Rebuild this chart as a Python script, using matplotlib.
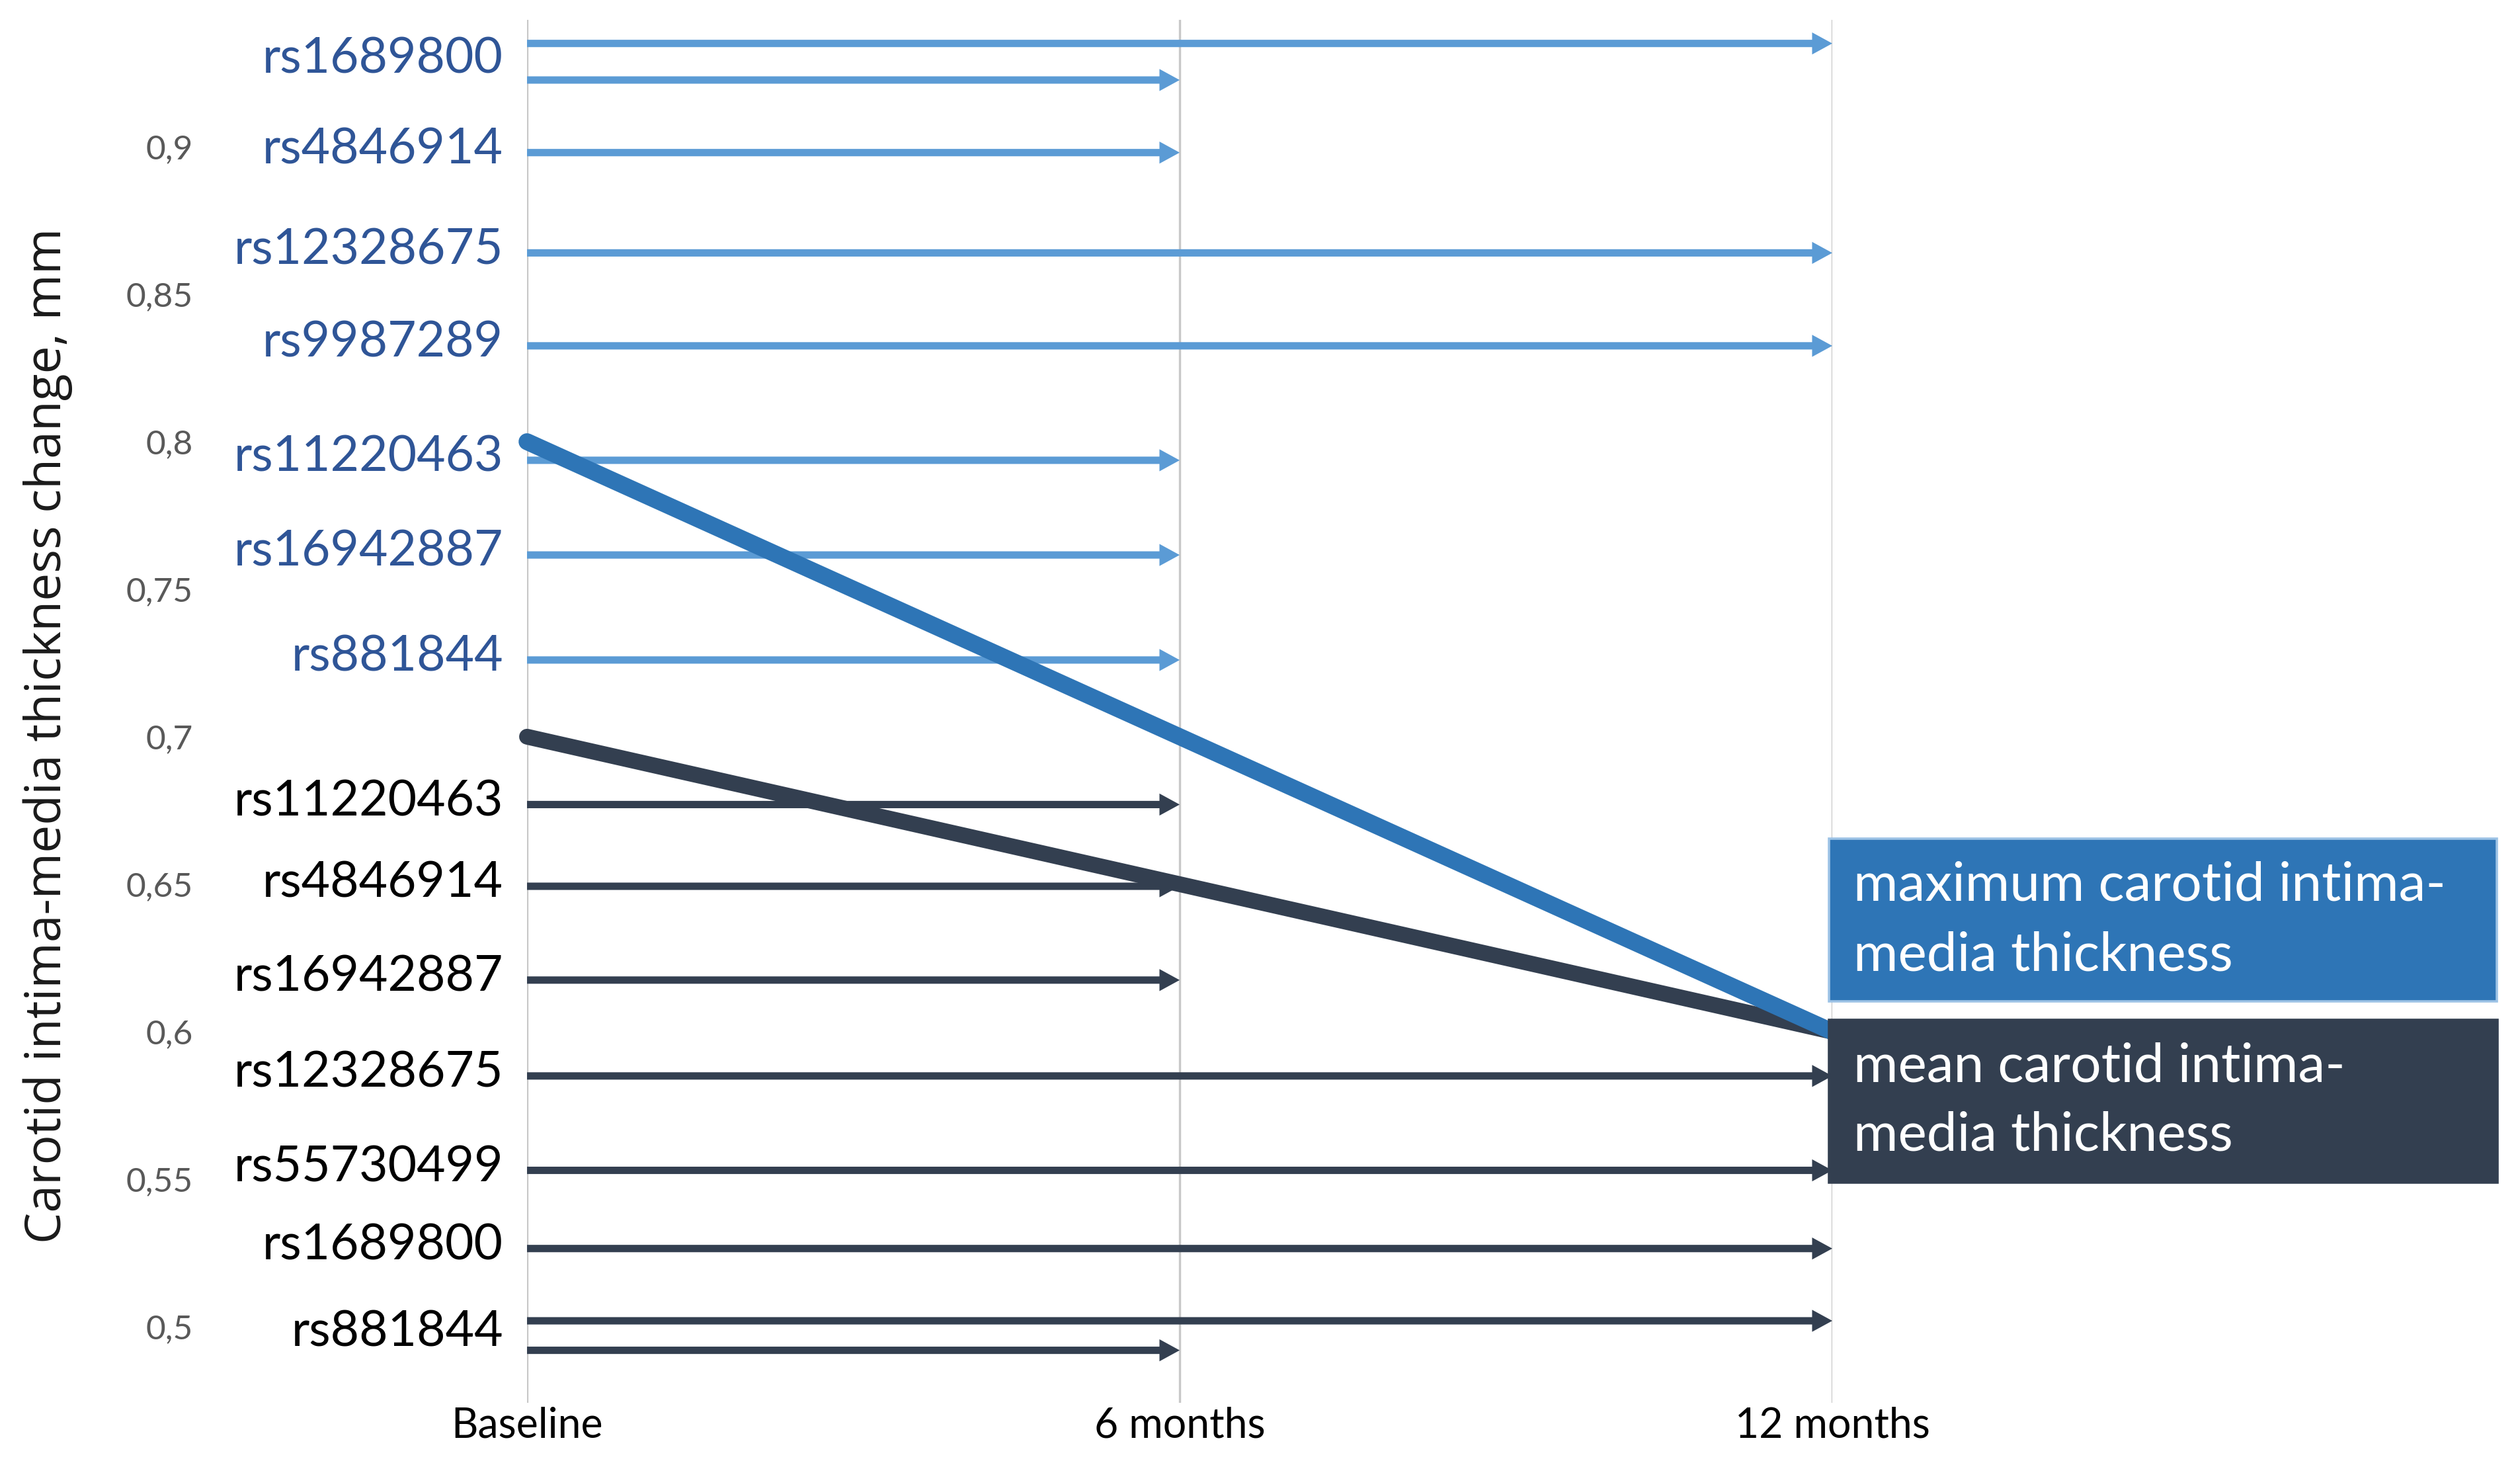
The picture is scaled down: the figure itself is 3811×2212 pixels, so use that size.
import matplotlib
matplotlib.use("Agg")
import matplotlib.pyplot as plt
from matplotlib.patches import FancyArrowPatch, ArrowStyle, Rectangle

# ---------------- data ----------------
time_points = ["Baseline", "6 months", "12 months"]
max_cimt = [0.80, 0.70, 0.60]
mean_cimt = [0.70, 0.65, 0.60]

max_snps = ["rs1689800", "rs1689800", "rs4846914", "rs12328675", "rs9987289",
            "rs11220463", "rs16942887", "rs881844"]
max_snp_values = [0.935, 0.9226, 0.898, 0.864, 0.8325, 0.7937, 0.7616, 0.726]
max_snp_reach = ["12 months", "6 months", "6 months", "12 months", "12 months",
                 "6 months", "6 months", "6 months"]

mean_snps = ["rs11220463", "rs4846914", "rs16942887", "rs12328675", "rs55730499",
             "rs1689800", "rs881844", "rs881844"]
mean_snp_values = [0.677, 0.6493, 0.6175, 0.585, 0.553, 0.5265, 0.502, 0.492]
mean_snp_reach = ["6 months", "6 months", "6 months", "12 months", "12 months",
                  "12 months", "12 months", "6 months"]

y_ticks = [0.5, 0.55, 0.6, 0.65, 0.7, 0.75, 0.8, 0.85, 0.9]
y_tick_labels = ["0,5", "0,55", "0,6", "0,65", "0,7", "0,75", "0,8", "0,85", "0,9"]
series_names = ["maximum carotid intima-\nmedia thickness",
                "mean carotid intima-\nmedia thickness"]
y_title = "Carotid intima-media thickness change, mm"

# ---------------- style ----------------
plt.rcParams['font.family'] = ['Lato', 'DejaVu Sans']
MAX_LINE = "#2E75B6"
MAX_ARROW = "#5B9BD5"
MAX_TEXT = "#2F5597"
MEAN_COL = "#333F50"
GRID = "#C8C8C8"

W, H = 3812, 2212
DPI = 200
fig = plt.figure(figsize=(W / DPI, H / DPI), dpi=DPI)


def fx(x):
    return x / W


def fy(y):
    return 1 - y / H


ax = fig.add_axes([fx(797), fy(2121), fx(2771) - fx(797), fy(30) - fy(2121)])
ax.set_xlim(0, 2)
ax.set_ylim(0.4742, 0.9430)
for s in ax.spines.values():
    s.set_visible(False)

ax.set_xticks(range(len(time_points)), time_points)
ax.set_yticks(y_ticks, y_tick_labels)
ax.tick_params(axis='x', length=0, pad=2, labelsize=22.5, labelcolor='#000000')
ax.tick_params(axis='y', length=0, pad=182, labelsize=18.5, labelcolor='#595959')
ax.grid(axis='x', color=GRID, lw=1.2)
ax.grid(axis='y', visible=False)
ax.set_axisbelow(True)

arrow_style = ArrowStyle.Simple(head_length=11, head_width=12, tail_width=4)


def draw_group(snps, values, reach, arrow_col, text_col):
    groups = {}
    for name, v, r in zip(snps, values, reach):
        end = time_points.index(r)
        p = FancyArrowPatch((0, v), (end, v), arrowstyle=arrow_style,
                            mutation_scale=1, shrinkA=0, shrinkB=0,
                            color=arrow_col, lw=0, zorder=3, clip_on=False)
        ax.add_patch(p)
        groups.setdefault(name, []).append(v)
    for name, vs in groups.items():
        v = sum(vs) / len(vs)
        ax.annotate(name, xy=(0, v), xycoords='data', xytext=(-13, -6),
                    textcoords='offset points', ha='right', va='baseline',
                    fontsize=27, color=text_col, annotation_clip=False)


draw_group(max_snps, max_snp_values, max_snp_reach, MAX_ARROW, MAX_TEXT)
draw_group(mean_snps, mean_snp_values, mean_snp_reach, MEAN_COL, "#000000")

x = list(range(len(time_points)))
ax.plot(x, max_cimt, color=MAX_LINE, lw=9.2, solid_capstyle='round', zorder=5, clip_on=False)
ax.plot(x, mean_cimt, color=MEAN_COL, lw=8.6, solid_capstyle='round', zorder=4, clip_on=False)

# legend boxes
boxes = [
    (2766, 1268, 3776, 1514, MAX_LINE, "#9DC3E6", (1362, 1468)),
    (2766, 1542, 3777, 1788, MEAN_COL, MEAN_COL, (1635, 1739)),
]
for (x0, y0, x1, y1, fc, ec, baselines), name in zip(boxes, series_names):
    rect = Rectangle((fx(x0), fy(y1)), fx(x1) - fx(x0), fy(y0) - fy(y1),
                     transform=fig.transFigure, facecolor=fc, edgecolor=ec,
                     lw=1.3, zorder=10)
    fig.add_artist(rect)
    for line, b in zip(name.split("\n"), baselines):
        fig.text(fx(2803), fy(b), line, ha='left', va='baseline', fontsize=29.5,
                 color='white', zorder=11)

fig.text(fx(72), fy(1112), y_title, rotation=90, ha='center', va='center',
         fontsize=27, color='#1a1a1a', family=['Open Sans', 'DejaVu Sans'])

fig.savefig("out.png", dpi=DPI, facecolor='white')
